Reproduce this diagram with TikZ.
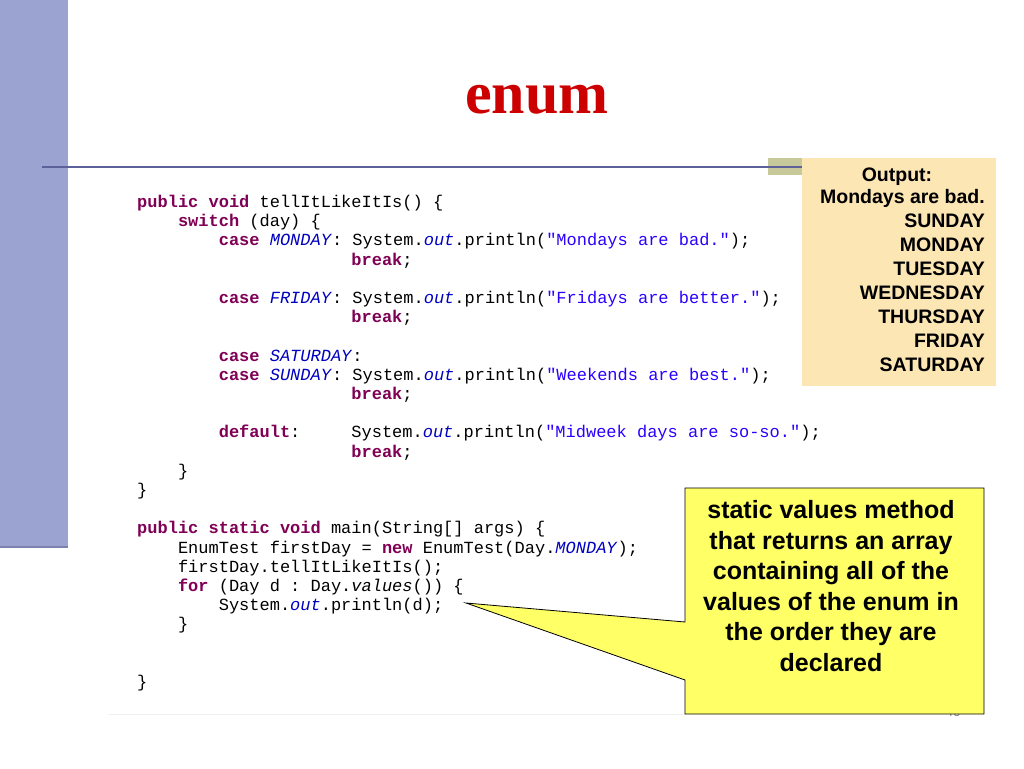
\documentclass[tikz,border=0pt]{standalone}
\usepackage{fontspec}
\setmainfont{Liberation Sans}
\newfontfamily\titlefont{Liberation Serif}
\setmonofont{Liberation Mono}
\usetikzlibrary{positioning}
\definecolor{kwcol}{HTML}{7F0055}
\definecolor{fldcol}{HTML}{0000C0}
\definecolor{strcol}{HTML}{2A00FF}
\definecolor{barcol}{HTML}{9BA3D1}
\definecolor{linecol}{HTML}{5C6199}
\definecolor{outcol}{HTML}{FBE6B4}
\definecolor{notecol}{HTML}{FFFF66}
\definecolor{khaki}{HTML}{C8C99A}
\newcommand{\kw}[1]{\textcolor{kwcol}{\textbf{#1}}}
\newcommand{\fld}[1]{\textcolor{fldcol}{\textit{#1}}}
\newcommand{\str}[1]{\textcolor{strcol}{#1}}
\newcommand{\ind}[1]{\hspace*{#1\fontcharwd\font`x}}
\begin{document}
\begin{tikzpicture}[
    x=1pt, y=-1pt,
    % Styles
    codeblock/.style={anchor=north west, align=left, inner sep=0pt,
        font=\fontsize{17}{19.2}\selectfont\ttfamily},
    outbox/.style={fill=outcol, draw=none},
    note/.style={fill=notecol, draw=black, line width=0.8pt},
    notetext/.style={align=center, font=\fontsize{25}{30.5}\selectfont\bfseries},
    outtext/.style={align=right, font=\fontsize{19.5}{24}\selectfont\bfseries, inner sep=0pt}
]
\useasboundingbox (0,0) rectangle (1024,768);

% --- Slide frame ---
\fill[barcol] (0,0) rectangle (68,548);
\draw[linecol!80, line width=2pt] (0,547) -- (68,547);
\fill[khaki] (768,158) rectangle (802,175);
\draw[linecol, line width=1.5pt] (42,167) -- (802,167);
\draw[black!6, line width=1pt] (108,714) -- (685,714);
\node[font=\titlefont\fontsize{60}{64}\selectfont\bfseries, text=red!80!black] (title) at (537,100) {enum};
\node[font=\fontsize{13}{14}\selectfont, text=gray] (pagenum) at (953,712) {46};

% --- Output box ---
\fill[outbox] (802,158) rectangle (996,386);
\node[outtext] (outhead) at (897,177) {Output:};
\node[outtext, anchor=north east] (outlines) at (985,189)
    {Mondays are bad.\\SUNDAY\\MONDAY\\TUESDAY\\WEDNESDAY\\THURSDAY\\FRIDAY\\SATURDAY};

% --- Code ---
\node[codeblock] (code) at (137,195) {%
\kw{public} \kw{void} tellItLikeItIs() \{\\
\ind{4}\kw{switch} (day) \{\\
\ind{8}\kw{case} \fld{MONDAY}: System.\fld{out}.println(\str{"Mondays are bad."});\\
\ind{21}\kw{break};\\
\mbox{}\\
\ind{8}\kw{case} \fld{FRIDAY}: System.\fld{out}.println(\str{"Fridays are better."});\\
\ind{21}\kw{break};\\
\mbox{}\\
\ind{8}\kw{case} \fld{SATURDAY}:\\
\ind{8}\kw{case} \fld{SUNDAY}: System.\fld{out}.println(\str{"Weekends are best."});\\
\ind{21}\kw{break};\\
\mbox{}\\
\ind{8}\kw{default}:\ind{5}System.\fld{out}.println(\str{"Midweek days are so-so."});\\
\ind{21}\kw{break};\\
\ind{4}\}\\
\}\\
\mbox{}\\
\kw{public} \kw{static} \kw{void} main(String[] args) \{\\
\ind{4}EnumTest firstDay = \kw{new} EnumTest(Day.\fld{MONDAY});\\
\ind{4}firstDay.tellItLikeItIs();\\
\ind{4}\kw{for} (Day d : Day.\textit{values}()) \{\\
\ind{8}System.\fld{out}.println(d);\\
\ind{4}\}\\
\mbox{}\\
\mbox{}\\
\}};

% --- Callout ---
\coordinate (tip) at (466,603);
\draw[note] (685,488) -- (984,488) -- (984,714) -- (685,714) -- (685,680) -- (tip) -- (685,622) -- cycle;
\node[notetext] (notebody) at (831,586)
    {static values method\\that returns an array\\containing all of the\\values of the enum in\\the order they are\\declared};
\end{tikzpicture}
\end{document}
